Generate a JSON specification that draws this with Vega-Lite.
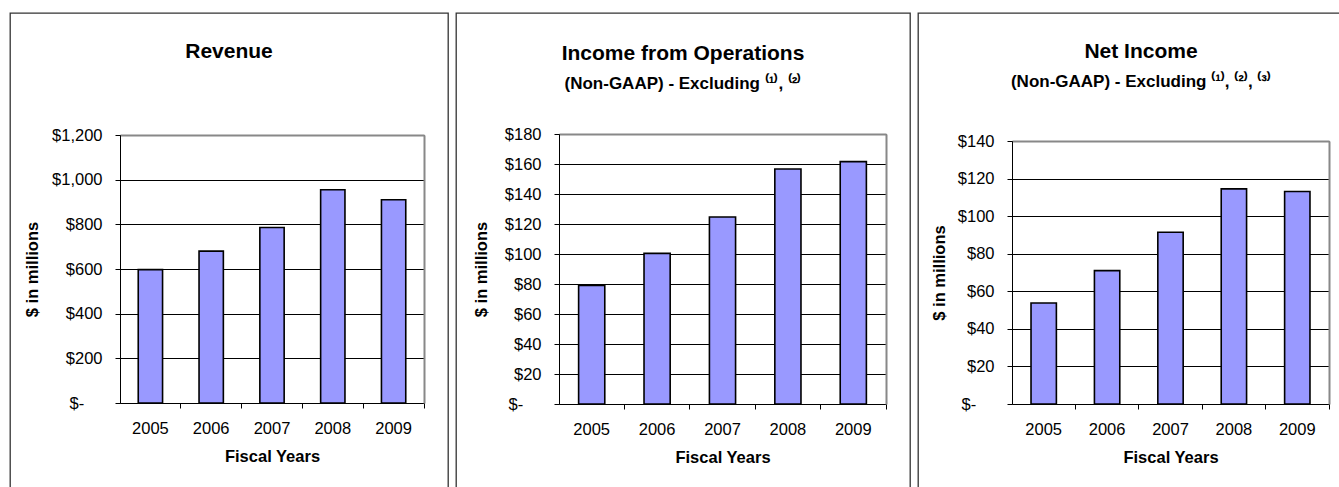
{
  "$schema": "https://vega.github.io/schema/vega-lite/v6.json",
  "padding": {"left": 9, "top": 12, "right": 0, "bottom": 0},
  "autosize": {"type": "pad"},
  "background": "white",
  "spacing": 8,
  "bounds": "flush",
  "config": {
    "font": "Liberation Sans",
    "view": {"stroke": "#333333", "strokeWidth": 1.3},
    "axis": {
      "labelFont": "Liberation Sans", "labelFontSize": 16.5, "labelColor": "#000000",
      "titleFont": "Liberation Sans", "titleFontSize": 16.5, "titleFontWeight": "bold", "titleColor": "#000000",
      "domainColor": "#000000", "domainWidth": 1, "tickColor": "#000000", "tickWidth": 1,
      "gridColor": "#000000", "gridWidth": 1, "gridOpacity": 1
    },
    "title": {"font": "Liberation Sans", "fontSize": 21, "fontWeight": "bold", "color": "#000000",
      "subtitleFont": "Liberation Sans", "subtitleFontSize": 17, "subtitleFontWeight": "bold", "subtitleColor": "#000000",
      "anchor": "middle", "frame": "group", "subtitlePadding": 12}
  },
  "hconcat": [
    {
      "width": 438, "height": 475,
      "title": {"text": "Revenue", "offset": -49},
      "data": {"values": [
        {"year": "2005", "value": 597},
        {"year": "2006", "value": 680},
        {"year": "2007", "value": 786},
        {"year": "2008", "value": 955},
        {"year": "2009", "value": 910}
      ]},
      "layer": [
        {
          "mark": {"type": "bar", "fill": "#9999FF", "stroke": "#000000", "strokeWidth": 1.6},
          "encoding": {
            "x": {"field": "year", "type": "ordinal",
              "scale": {"range": [110, 414], "paddingInner": 0.6, "paddingOuter": 0.3},
              "axis": {"orient": "bottom", "offset": -85, "title": "Fiscal Years", "labelAngle": 0,
                "bandPosition": 1.75, "tickSize": 5, "labelPadding": 12, "titlePadding": 12, "grid": false}},
            "y": {"field": "value", "type": "quantitative", "stack": null,
              "scale": {"domain": [0, 1200], "range": [390, 122], "nice": false, "zero": true},
              "axis": {"orient": "left", "offset": -110, "title": "$ in millions",
                "values": [0, 200, 400, 600, 800, 1000, 1200], "grid": true, "tickSize": 5,
                "labelPadding": 13, "titlePadding": 11,
                "labelExpr": "datum.value == 0 ? '$-\u00a0\u00a0\u00a0\u00a0\u200b' : '$' + format(datum.value, ',')"}}
          }
        },
        {
          "mark": {"type": "bar", "opacity": 0},
          "encoding": {
            "x": {"field": "year", "type": "ordinal",
              "axis": {"orient": "top", "offset": -122, "labels": false, "ticks": false, "title": null,
                "domainColor": "#888888", "domainWidth": 2, "grid": false}},
            "y": {"field": "value", "type": "quantitative", "stack": null,
              "axis": {"orient": "right", "offset": -24, "labels": false, "ticks": false, "title": null,
                "domainColor": "#888888", "domainWidth": 2, "grid": false}}
          }
        }
      ],
      "resolve": {"axis": {"x": "independent", "y": "independent"}}
    },
    {
      "width": 454, "height": 475,
      "title": {"text": "Income from Operations", "subtitle": "(Non-GAAP) - Excluding ⁽¹⁾, ⁽²⁾", "offset": -79},
      "data": {"values": [
        {"year": "2005", "value": 79},
        {"year": "2006", "value": 100.4},
        {"year": "2007", "value": 124.7},
        {"year": "2008", "value": 156.7},
        {"year": "2009", "value": 161.6}
      ]},
      "layer": [
        {
          "mark": {"type": "bar", "fill": "#9999FF", "stroke": "#000000", "strokeWidth": 1.6},
          "encoding": {
            "x": {"field": "year", "type": "ordinal",
              "scale": {"range": [103, 430], "paddingInner": 0.6, "paddingOuter": 0.3},
              "axis": {"orient": "bottom", "offset": -84, "title": "Fiscal Years", "labelAngle": 0,
                "bandPosition": 1.75, "tickSize": 5, "labelPadding": 12, "titlePadding": 12, "grid": false}},
            "y": {"field": "value", "type": "quantitative", "stack": null,
              "scale": {"domain": [0, 180], "range": [391, 121], "nice": false, "zero": true},
              "axis": {"orient": "left", "offset": -103, "title": "$ in millions",
                "values": [0, 20, 40, 60, 80, 100, 120, 140, 160, 180], "grid": true, "tickSize": 5,
                "labelPadding": 13, "titlePadding": 15,
                "labelExpr": "datum.value == 0 ? '$-\u00a0\u00a0\u00a0\u00a0\u200b' : '$' + format(datum.value, ',')"}}
          }
        },
        {
          "mark": {"type": "bar", "opacity": 0},
          "encoding": {
            "x": {"field": "year", "type": "ordinal",
              "axis": {"orient": "top", "offset": -121, "labels": false, "ticks": false, "title": null,
                "domainColor": "#888888", "domainWidth": 2, "grid": false}},
            "y": {"field": "value", "type": "quantitative", "stack": null,
              "axis": {"orient": "right", "offset": -24, "labels": false, "ticks": false, "title": null,
                "domainColor": "#888888", "domainWidth": 2, "grid": false}}
          }
        }
      ],
      "resolve": {"axis": {"x": "independent", "y": "independent"}}
    },
    {
      "width": 422, "height": 475,
      "title": {"text": "Net Income", "subtitle": "(Non-GAAP) - Excluding ⁽¹⁾, ⁽²⁾, ⁽³⁾", "offset": -77, "dx": 12},
      "data": {"values": [
        {"year": "2005", "value": 53.8},
        {"year": "2006", "value": 71.0},
        {"year": "2007", "value": 91.4},
        {"year": "2008", "value": 114.5},
        {"year": "2009", "value": 113.1}
      ]},
      "layer": [
        {
          "mark": {"type": "bar", "fill": "#9999FF", "stroke": "#000000", "strokeWidth": 1.6},
          "encoding": {
            "x": {"field": "year", "type": "ordinal",
              "scale": {"range": [94, 411], "paddingInner": 0.6, "paddingOuter": 0.3},
              "axis": {"orient": "bottom", "offset": -84, "title": "Fiscal Years", "labelAngle": 0,
                "bandPosition": 1.75, "tickSize": 5, "labelPadding": 12, "titlePadding": 12, "grid": false}},
            "y": {"field": "value", "type": "quantitative", "stack": null,
              "scale": {"domain": [0, 140], "range": [391, 128], "nice": false, "zero": true},
              "axis": {"orient": "left", "offset": -94, "title": "$ in millions",
                "values": [0, 20, 40, 60, 80, 100, 120, 140], "grid": true, "tickSize": 5,
                "labelPadding": 13, "titlePadding": 10,
                "labelExpr": "datum.value == 0 ? '$-\u00a0\u00a0\u00a0\u00a0\u200b' : '$' + format(datum.value, ',')"}}
          }
        },
        {
          "mark": {"type": "bar", "opacity": 0},
          "encoding": {
            "x": {"field": "year", "type": "ordinal",
              "axis": {"orient": "top", "offset": -128, "labels": false, "ticks": false, "title": null,
                "domainColor": "#888888", "domainWidth": 2, "grid": false}},
            "y": {"field": "value", "type": "quantitative", "stack": null,
              "axis": {"orient": "right", "offset": -11, "labels": false, "ticks": false, "title": null,
                "domainColor": "#888888", "domainWidth": 2, "grid": false}}
          }
        }
      ],
      "resolve": {"axis": {"x": "independent", "y": "independent"}}
    }
  ]
}
